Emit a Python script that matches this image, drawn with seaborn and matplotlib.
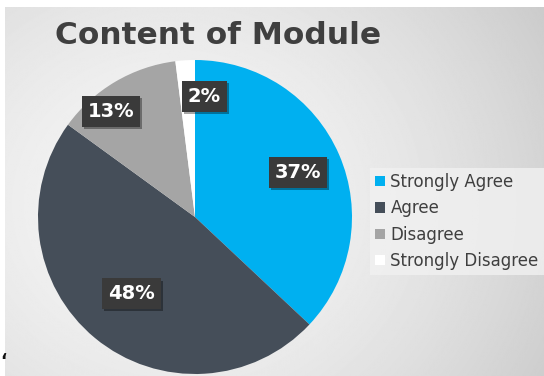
import numpy as np
import matplotlib
matplotlib.use("Agg")
import matplotlib.pyplot as plt
import matplotlib.patheffects as pe
from matplotlib.patches import Patch
import seaborn as sns

# Survey responses for "Content of Module"
categories = ["Strongly Agree", "Agree", "Disagree", "Strongly Disagree"]
shares = [37, 48, 13, 2]
pct_labels = ["37%", "48%", "13%", "2%"]
title_text = "Content of Module"

sns.set_theme(style="white")
plt.rcParams["font.family"] = ["DejaVu Sans"]

colors = ["#00B0F0", "#454E59", "#A5A5A5", "#FFFFFF"]
text_dark = "#3F3F3F"

W, H = 544, 376
fig = plt.figure(figsize=(W / 100, H / 100), dpi=100)
fig.patch.set_facecolor("white")

# soft grey backdrop, lighter towards the left-centre, darker at the right edge
bg = fig.add_axes([5 / W, 0, 1 - 5 / W, 1 - 7 / H])
yy, xx = np.mgrid[0:H, 0:W]
d = np.sqrt(((xx - 170) / 420.0) ** 2 + ((yy - 200) / 380.0) ** 2)
shade = np.clip(0.965 - 0.16 * d ** 1.6, 0.78, 1.0)
bg.imshow(shade, cmap="gray", vmin=0, vmax=1, aspect="auto", interpolation="bilinear")
bg.set_axis_off()

# pie axes: centre (195, 217) px, radius 157 px
cx, cy, r = 195, 217, 157
ax = fig.add_axes([(cx - r) / W, (H - cy - r) / H, 2 * r / W, 2 * r / H])
ax.set_axis_off()
wedges, _ = ax.pie(shares, colors=colors, startangle=90, counterclock=False,
                   radius=1.0, wedgeprops=dict(linewidth=0))
ax.set_xlim(-1, 1)
ax.set_ylim(-1, 1)

# label placement: radial distance and angular nudge per slice
label_dist = [0.715, 0.635, 0.86, 0.77]
label_nudge = [0, 0, 8, -8]
for w, lab, dist, nudge in zip(wedges, pct_labels, label_dist, label_nudge):
    ang = np.deg2rad((w.theta1 + w.theta2) / 2 + nudge)
    t = ax.text(dist * np.cos(ang), dist * np.sin(ang), lab, ha="center", va="center",
                color="white", fontsize=14, fontweight="bold",
                bbox=dict(boxstyle="square,pad=0.3", facecolor="#3A3A3A", edgecolor="none"))
    t.get_bbox_patch().set_path_effects([
        pe.SimplePatchShadow(offset=(1.5, -1.5), shadow_rgbFace="#000000", alpha=0.35),
        pe.Normal()])

fig.text(55 / W, 1 - 36 / H, title_text, ha="left", va="center",
         fontsize=22.5, fontweight="bold", color=text_dark)

handles = [Patch(facecolor=c, edgecolor="none", label=lab) for c, lab in zip(colors, categories)]
leg = fig.legend(handles=handles, loc="upper left",
                 bbox_to_anchor=(370 / W, 1 - 168 / H), frameon=True,
                 fontsize=12, handlelength=0.58, handleheight=0.58, handletextpad=0.35,
                 labelspacing=0.5, borderpad=0.3, borderaxespad=0)
leg.get_frame().set_facecolor("#F1F1F1")
leg.get_frame().set_edgecolor("none")
leg.get_frame().set_alpha(0.8)
leg.get_frame().set_boxstyle("square", pad=0)
for txt in leg.get_texts():
    txt.set_color(text_dark)

fig.text(0 / W, 1 - 361 / H, "\u2018", ha="left", va="center", fontsize=12,
         fontweight="bold", color="#111111")

fig.savefig("out.png", dpi=100)
